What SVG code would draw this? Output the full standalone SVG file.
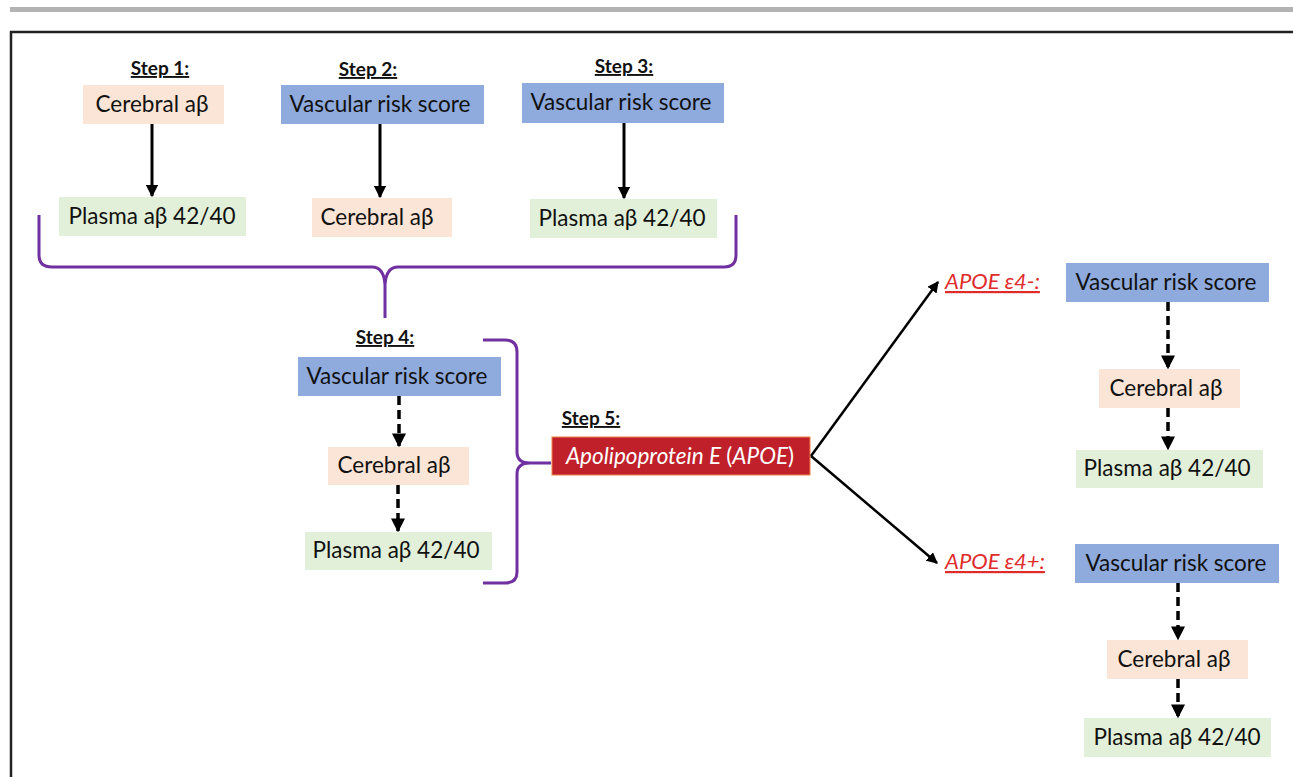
<svg xmlns="http://www.w3.org/2000/svg" width="1293" height="777" viewBox="0 0 1293 777">
<defs>
<style>
.t{font-family:Lato,"Open Sans","Liberation Sans",sans-serif;font-size:22.5px;fill:#111;text-anchor:middle}
.st{font-family:Lato,"Open Sans","Liberation Sans",sans-serif;font-size:19px;font-weight:bold;fill:#111;text-anchor:middle;text-decoration:underline}
.ap{font-family:Lato,"Open Sans","Liberation Sans",sans-serif;font-size:22px;font-style:italic;fill:#e02b2b;text-decoration:underline}
.pk{fill:#fbe5d6}
.bl{fill:#8faadc}
.gr{fill:#e2f0d9}
.sol{stroke:#000;stroke-width:3;fill:none}
.dsh{stroke:#000;stroke-width:3.5;fill:none;stroke-dasharray:9 5}
.thin{stroke:#000;stroke-width:2.5;fill:none}
.br{stroke:#7030a0;stroke-width:3;fill:none}
</style>
<marker id="ah" viewBox="0 0 10 10" refX="9" refY="5" markerWidth="4.2" markerHeight="4.2" orient="auto" markerUnits="strokeWidth"><path d="M0,0 L10,5 L0,10 z" fill="#000"/></marker>
<marker id="ah2" viewBox="0 0 10 10" refX="9" refY="5" markerWidth="4" markerHeight="4" orient="auto" markerUnits="strokeWidth"><path d="M0,0 L10,5 L0,10 z" fill="#000"/></marker>
<marker id="ah3" viewBox="0 0 10 10" refX="9" refY="5" markerWidth="4.5" markerHeight="4.5" orient="auto" markerUnits="strokeWidth"><path d="M0,0 L10,5 L0,10 z" fill="#000"/></marker>
</defs>
<rect x="10" y="7" width="1283" height="5" fill="#b3b3b3"/>
<path d="M11,777 V32 H1293" stroke="#222" stroke-width="2.5" fill="none"/>

<g id="step1">
<text class="st" x="160" y="75">Step 1:</text>
<rect class="pk" x="83" y="85" width="141" height="39"/>
<text class="t" x="152" y="112">Cerebral aβ</text>
<rect class="gr" x="59" y="197" width="187" height="39"/>
<text class="t" x="152" y="224">Plasma aβ 42/40</text>
</g>
<g id="step2">
<text class="st" x="368" y="76">Step 2:</text>
<rect class="bl" x="281" y="85" width="203" height="39"/>
<text class="t" x="380" y="112">Vascular risk score</text>
<rect class="pk" x="312" y="198" width="140" height="39"/>
<text class="t" x="377" y="225">Cerebral aβ</text>
</g>
<g id="step3">
<text class="st" x="624" y="73">Step 3:</text>
<rect class="bl" x="522" y="83" width="202" height="40"/>
<text class="t" x="621" y="110">Vascular risk score</text>
<rect class="gr" x="530" y="199" width="187" height="39"/>
<text class="t" x="622" y="226">Plasma aβ 42/40</text>
</g>
<g id="step4">
<text class="st" x="385" y="344">Step 4:</text>
<rect class="bl" x="298" y="357" width="203" height="39"/>
<text class="t" x="397" y="384">Vascular risk score</text>
<rect class="pk" x="328" y="447" width="141" height="38"/>
<text class="t" x="394" y="473">Cerebral aβ</text>
<rect class="gr" x="305" y="532" width="187" height="38"/>
<text class="t" x="396" y="558">Plasma aβ 42/40</text>
</g>
<g id="step5">
<text class="st" x="591" y="425">Step 5:</text>
<rect x="552" y="437" width="258" height="38" fill="#c0202a" stroke="#f08040" stroke-width="1"/>
<text class="t" x="680" y="464" style="fill:#fff"><tspan font-style="italic">Apolipoprotein E </tspan>(<tspan font-style="italic">APOE</tspan>)</text>
</g>
<g id="e4neg">
<text class="ap" x="945" y="289">APOE ε4-:</text>
<rect class="bl" x="1066" y="263" width="203" height="39"/>
<text class="t" x="1166" y="290">Vascular risk score</text>
<rect class="pk" x="1099" y="369" width="141" height="39"/>
<text class="t" x="1166" y="396">Cerebral aβ</text>
<rect class="gr" x="1076" y="450" width="187" height="38"/>
<text class="t" x="1167" y="476">Plasma aβ 42/40</text>
</g>
<g id="e4pos">
<text class="ap" x="945" y="569">APOE ε4+:</text>
<rect class="bl" x="1075" y="544" width="204" height="39"/>
<text class="t" x="1176" y="571">Vascular risk score</text>
<rect class="pk" x="1107" y="640" width="141" height="39"/>
<text class="t" x="1174" y="667">Cerebral aβ</text>
<rect class="gr" x="1084" y="718" width="187" height="39"/>
<text class="t" x="1177" y="745">Plasma aβ 42/40</text>
</g>

<g id="connectors">
<line class="sol" x1="152" y1="124" x2="152" y2="196" marker-end="url(#ah)"/>
<line class="sol" x1="380" y1="124" x2="380" y2="197" marker-end="url(#ah)"/>
<line class="sol" x1="624" y1="123" x2="624" y2="198" marker-end="url(#ah)"/>
<line class="dsh" x1="399" y1="396" x2="399" y2="446" marker-end="url(#ah2)"/>
<line class="dsh" x1="398" y1="485" x2="398" y2="531" marker-end="url(#ah2)"/>
<line class="dsh" x1="1168" y1="302" x2="1168" y2="368" marker-end="url(#ah2)"/>
<line class="dsh" x1="1168" y1="408" x2="1168" y2="449" marker-end="url(#ah2)"/>
<line class="dsh" x1="1178" y1="583" x2="1178" y2="639" marker-end="url(#ah2)"/>
<line class="dsh" x1="1178" y1="679" x2="1178" y2="717" marker-end="url(#ah2)"/>
<line class="thin" x1="811" y1="456" x2="938" y2="282" marker-end="url(#ah3)"/>
<line class="thin" x1="811" y1="456" x2="937" y2="563" marker-end="url(#ah3)"/>
<path class="br" d="M39,215 V255 Q39,267 52,267 H372 Q384,267 385,285 V318 M385,318 V285 Q386,267 398,267 H724 Q736,267 736,255 V215"/>
<path class="br" d="M483,340 H505 Q517,340 517,352 V452 Q517,463 530,463 H551 M530,463 Q517,463 517,474 V572 Q517,583 505,583 H483"/>
</g>
</svg>
